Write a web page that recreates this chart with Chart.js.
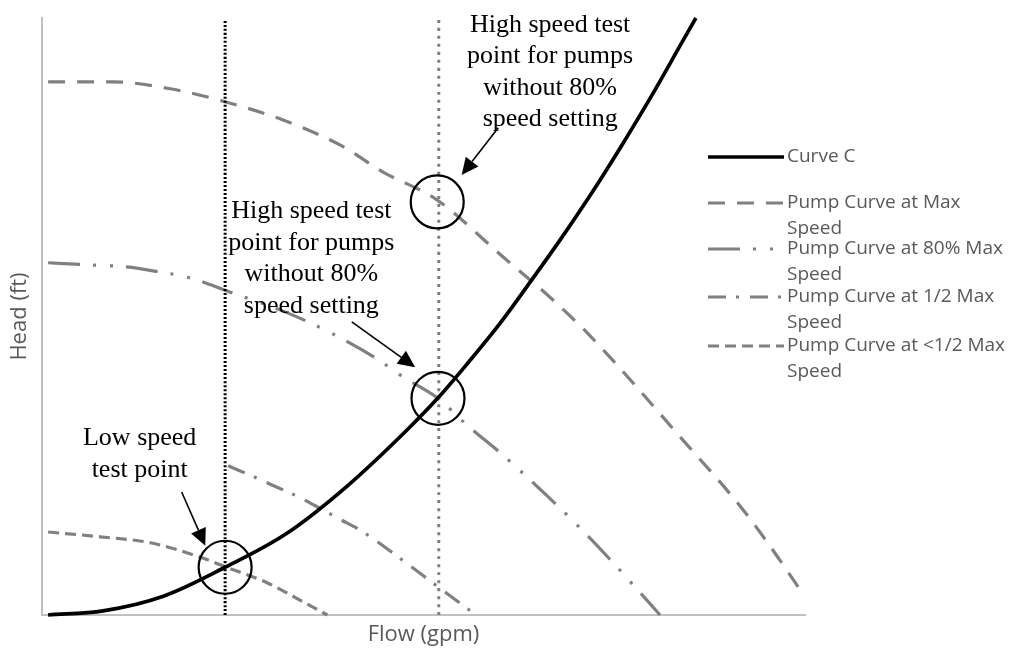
<!DOCTYPE html>
<html>
<head>
<meta charset="utf-8">
<script src="https://cdn.jsdelivr.net/npm/chart.js@4"></script>
<style>
  html, body { margin: 0; padding: 0; background: #fff; }
  #wrap { width: 1029px; height: 650px; }
</style>
</head>
<body>
<div id="wrap"><canvas id="pumpChart" width="1029" height="650"></canvas></div>
<script>
// values (flow and head in % of the axis range)
var curveCFlow = [0.8, 8, 16, 24, 32, 40, 48, 52, 56, 60, 64, 68, 72, 76, 80, 84, 85.7];
var curveCHead = [0, 0.7, 3.2, 8.0, 13.6, 21.6, 31.2, 36.5, 42.5, 48.8, 55.8, 63, 70.6, 78.7, 87.2, 96.2, 100];

var maxFlow = [0.8, 9.3, 17.0, 24.2, 31.6, 39.1, 44.7, 51.8, 60.4, 66.6, 71.8, 84.0, 91.9, 96.7, 99.1];
var maxHead = [89.3, 89.3, 88.1, 85.9, 82.9, 78.7, 74.2, 69.5, 60.0, 53.2, 46.8, 29.3, 17.6, 9.2, 4.7];

var p80Flow = [0.8, 6.9, 11.1, 15.2, 19.3, 24.6, 31.6, 34.7, 38.7, 43.9, 47.3, 51.9, 55.7, 60.4, 65.0, 69.5, 75.1, 81.0];
var p80Head = [59.0, 58.6, 58.3, 57.5, 56.5, 54.1, 50.9, 49.2, 46.7, 42.9, 39.9, 36.3, 31.8, 26.8, 21.4, 15.9, 8.4, 0];

var halfFlow = [24.4, 28.2, 30.8, 33.6, 36.4, 38.8, 42.1, 46.9, 51.2, 53.7, 56.9];
var halfHead = [25.0, 22.9, 21.4, 19.8, 17.9, 16.2, 13.9, 9.5, 5.4, 3.0, 0];

var lowFlow = [0.8, 7.6, 14.2, 20.7, 24.2, 29.5, 33.8, 37.4];
var lowHead = [13.9, 13.1, 12.1, 9.7, 8.0, 5.4, 2.5, 0];

var testFlow = [24.0, 51.8, 51.9];
var testHead = [8.0, 69.2, 36.3];

var lowSpeedFlow = 24.0;
var highSpeedFlow = 52.0;

var seriesLabels = ['Curve C', 'Pump Curve at Max\nSpeed', 'Pump Curve at 80% Max\nSpeed',
                    'Pump Curve at 1/2 Max\nSpeed', 'Pump Curve at <1/2 Max\nSpeed'];
var noteHigh = ['High speed test', 'point for pumps', 'without 80%', 'speed setting'];
var noteLow = ['Low speed', 'test point'];

function pts(xs, ys) {
    return xs.map(function (v, i) { return {x: v, y: ys[i]}; });
}

var GRAY = '#808080';

function curve(label, xs, ys, color, width, dash, order) {
    return {
        label: label,
        data: pts(xs, ys),
        showLine: true,
        borderColor: color,
        backgroundColor: color,
        borderWidth: width,
        borderDash: dash,
        borderCapStyle: 'butt',
        pointRadius: 0,
        cubicInterpolationMode: 'monotone',
        clip: 6,
        order: order
    };
}

var datasets = [
    curve(seriesLabels[0], curveCFlow, curveCHead, '#000', 3.7, [], 0),
    curve(seriesLabels[1], maxFlow, maxHead, GRAY, 3.2, [17, 12], 3),
    curve(seriesLabels[2], p80Flow, p80Head, GRAY, 3.2, [32, 13, 3, 14, 3, 13], 3),
    curve(seriesLabels[3], halfFlow, halfHead, GRAY, 3.2, [18, 10, 3, 11], 3),
    curve(seriesLabels[4], lowFlow, lowHead, GRAY, 3.2, [11, 6], 3),
    curve('low', [lowSpeedFlow, lowSpeedFlow], [0, 99.7], '#000', 3, [2, 2], 2),
    curve('high', [highSpeedFlow, highSpeedFlow], [0, 100.3], GRAY, 3, [3, 5], 2),
    {
        label: 'points',
        data: pts(testFlow, testHead),
        showLine: false,
        pointRadius: 26.5,
        pointHoverRadius: 26.5,
        pointStyle: 'circle',
        borderColor: '#000',
        borderWidth: 2.2,
        backgroundColor: 'rgba(0,0,0,0)',
        clip: false,
        order: 1
    }
];

function arrow(ctx, x1, y1, x2, y2) {
    var a = Math.atan2(y2 - y1, x2 - x1);
    var len = 17, half = 8;
    var bx = x2 - len * Math.cos(a), by = y2 - len * Math.sin(a);
    ctx.beginPath();
    ctx.moveTo(x1, y1);
    ctx.lineTo(bx, by);
    ctx.stroke();
    ctx.beginPath();
    ctx.moveTo(x2, y2);
    ctx.lineTo(bx + half * Math.sin(a), by - half * Math.cos(a));
    ctx.lineTo(bx - half * Math.sin(a), by + half * Math.cos(a));
    ctx.closePath();
    ctx.fill();
}

var overlay = {
    id: 'overlay',
    afterDraw: function (chart) {
        var ctx = chart.ctx;
        var sx = chart.scales.x, sy = chart.scales.y;
        var X = function (v) { return sx.getPixelForValue(v); };
        var Y = function (v) { return sy.getPixelForValue(v); };

        ctx.save();
        ctx.fillStyle = '#000';
        ctx.strokeStyle = '#000';
        ctx.lineWidth = 1.6;
        ctx.textAlign = 'center';
        ctx.textBaseline = 'middle';
        ctx.font = '26px "Liberation Serif", "Times New Roman", serif';

        // notes: anchor of first text line in data units, lines 31px apart
        var notes = [
            {lines: noteHigh, x: 66.6, y: 98.8, from: [59.8, 81.6], to: [55.0, 73.7]},
            {lines: noteHigh, x: 35.3, y: 67.6, from: [40.6, 49.1], to: [48.9, 41.5]},
            {lines: noteLow, x: 12.8, y: 29.6, from: [18.3, 20.6], to: [21.4, 11.6]}
        ];
        notes.forEach(function (n) {
            n.lines.forEach(function (t, i) {
                ctx.fillText(t, X(n.x), Y(n.y) + i * 31.5);
            });
            arrow(ctx, X(n.from[0]), Y(n.from[1]), X(n.to[0]), Y(n.to[1]));
        });

        // legend on the right
        var rows = [157, 203, 249, 297, 346];
        ctx.textAlign = 'left';
        ctx.font = '19px "Open Sans", sans-serif';
        for (var i = 0; i < 5; i++) {
            var ds = chart.data.datasets[i];
            var yy = rows[i];
            ctx.save();
            ctx.strokeStyle = ds.borderColor;
            ctx.lineWidth = ds.borderWidth;
            ctx.setLineDash(ds.borderDash);
            ctx.beginPath();
            ctx.moveTo(708, yy);
            ctx.lineTo(784, yy);
            ctx.stroke();
            ctx.restore();
            ctx.fillStyle = '#595959';
            ds.label.split('\n').forEach(function (t, k) {
                ctx.fillText(t, 787, yy + k * 26);
            });
        }
        ctx.restore();
    }
};

new Chart(document.getElementById('pumpChart'), {
    type: 'scatter',
    data: {datasets: datasets},
    options: {
        responsive: false,
        animation: false,
        events: [],
        layout: {autoPadding: false, padding: {left: 7, right: 224, top: 18, bottom: 1.8}},
        plugins: {legend: {display: false}, tooltip: {enabled: false}},
        scales: {
            x: {
                type: 'linear', min: 0, max: 100,
                grid: {display: false, drawTicks: false},
                ticks: {display: false},
                border: {display: true, color: '#c0c0c0', width: 2, dash: [2, 1]},
                title: {display: true, text: 'Flow (gpm)', color: '#595959',
                        font: {family: 'Open Sans', size: 22}, padding: {top: 6.8, bottom: 0}}
            },
            y: {
                type: 'linear', min: 0, max: 100,
                grid: {display: false, drawTicks: false},
                ticks: {display: false},
                border: {display: true, color: '#c0c0c0', width: 2, dash: [2, 1]},
                title: {display: true, text: 'Head (ft)', color: '#595959', align: 'center',
                        font: {family: 'Open Sans', size: 22}, padding: {top: 0, bottom: 8.6}}
            }
        }
    },
    plugins: [overlay]
});
</script>
</body>
</html>
